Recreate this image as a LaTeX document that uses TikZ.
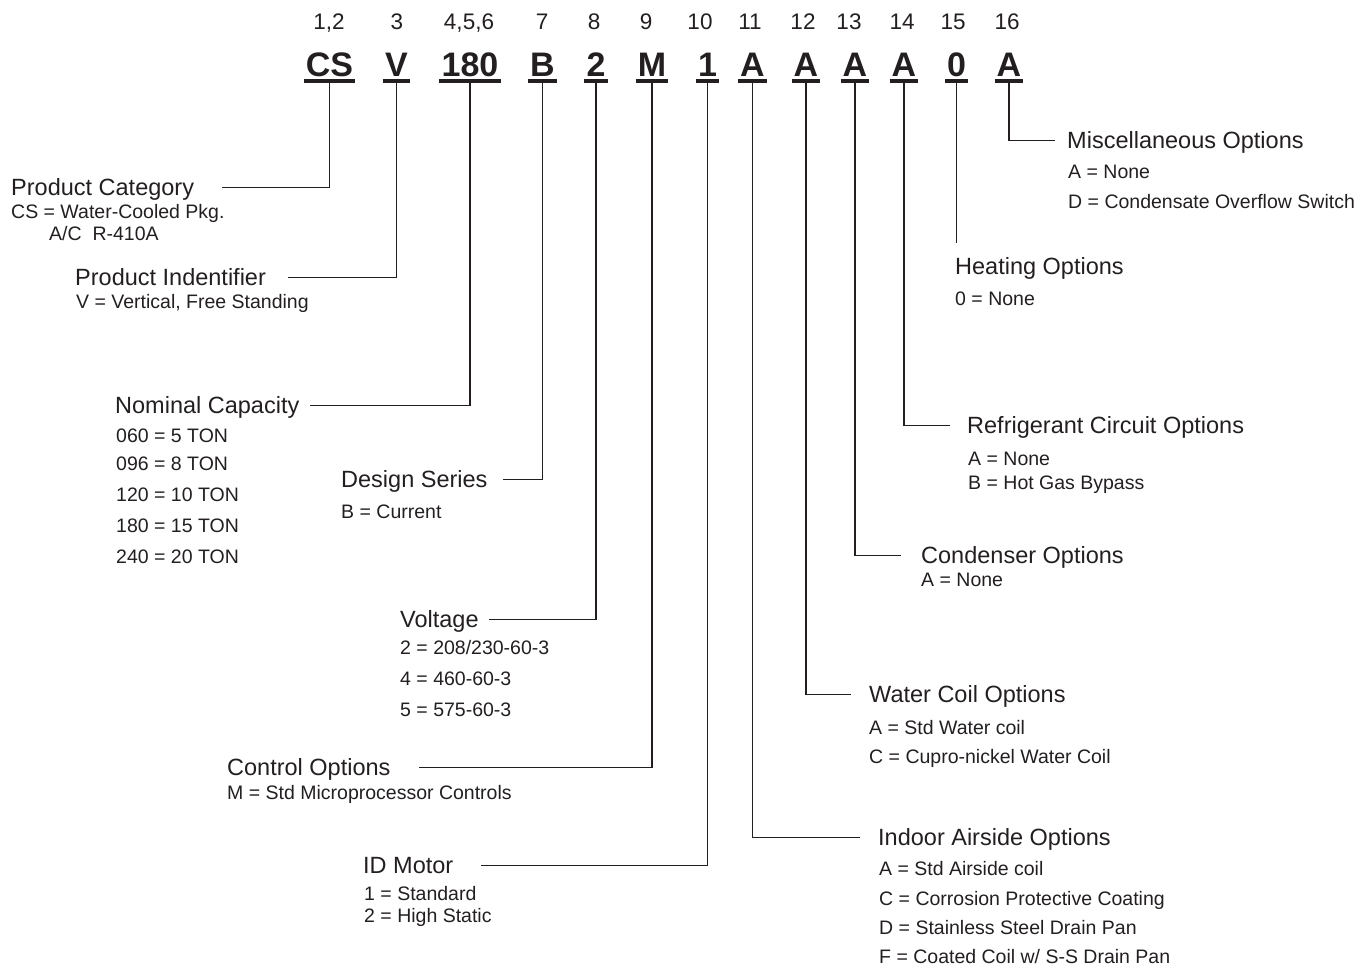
\documentclass[tikz,border=0pt]{standalone}
\usepackage{fontspec}
\setmainfont{Liberation Sans}
\definecolor{ink}{RGB}{35,31,32}
\begin{document}
\begin{tikzpicture}[x=1pt,y=-1pt,
  ttl/.style={anchor=base west, inner sep=0pt, text height=15.5pt, text depth=0pt, font=\fontsize{23.5}{28}\selectfont, text=ink},
  itm/.style={anchor=base west, inner sep=0pt, font=\fontsize{19.5}{23}\selectfont, text=ink},
  cde/.style={anchor=base, inner sep=0pt, font=\fontsize{34}{40}\selectfont\bfseries, text=ink},
  posnum/.style={anchor=base, inner sep=0pt, font=\fontsize{22.5}{27}\selectfont, text=ink},
  connl/.style={draw=ink, line width=1.4pt},
  ubar/.style={draw=ink, line width=4pt}]
\useasboundingbox (0,0) rectangle (1364,966);

% position numbers
\node[posnum] (p1) at (329,30) {1,2};
\node[posnum] (p2) at (397,30) {3};
\node[posnum] (p3) at (469,30) {4,5,6};
\node[posnum] (p4) at (542,30) {7};
\node[posnum] (p5) at (594,30) {8};
\node[posnum] (p6) at (646,30) {9};
\node[posnum] (p7) at (700,30) {10};
\node[posnum] (p8) at (750,30) {11};
\node[posnum] (p9) at (803,30) {12};
\node[posnum] (p10) at (849,30) {13};
\node[posnum] (p11) at (902,30) {14};
\node[posnum] (p12) at (953,30) {15};
\node[posnum] (p13) at (1007,30) {16};

% codes
\node[cde] (cs) at (329.5,76) {CS};
\node[cde] (v) at (396.5,76) {V};
\node[cde] (c180) at (470,76) {180};
\node[cde] (b) at (542.5,76) {B};
\node[cde] (two) at (596,76) {2};
\node[cde] (m) at (652,76) {M};
\node[cde] (one) at (707.5,76) {1};
\node[cde] (a11) at (752.5,76) {A};
\node[cde] (a12) at (806,76) {A};
\node[cde] (a13) at (855,76) {A};
\node[cde] (a14) at (904,76) {A};
\node[cde] (zero) at (956.5,76) {0};
\node[cde] (a16) at (1009,76) {A};

\foreach \c in {cs,v,c180,b,two,m,one,a11,a12,a13,a14,zero,a16}{
  \draw[ubar] ([xshift=-2pt,yshift=-5pt]\c.base west) -- ([xshift=2pt,yshift=-5pt]\c.base east);
}

% left titles and items
\node[ttl] (pc) at (11,195) {Product Category};
\node[itm] (pc1) at (11,218) {CS = Water-Cooled Pkg.};
\node[itm] (pc2) at (49,240) {A/C\ \ R-410A};

\node[ttl] (pi) at (75,285) {Product Indentifier};
\node[itm] (pi1) at (76,308) {V = Vertical, Free Standing};

\node[ttl] (nc) at (115,413) {Nominal Capacity};
\node[itm] (nc1) at (116,442) {060 = 5 TON};
\node[itm] (nc2) at (116,470) {096 = 8 TON};
\node[itm] (nc3) at (116,501) {120 = 10 TON};
\node[itm] (nc4) at (116,532) {180 = 15 TON};
\node[itm] (nc5) at (116,563) {240 = 20 TON};

\node[ttl] (ds) at (341,487) {Design Series};
\node[itm] (ds1) at (341,518) {B = Current};

\node[ttl] (vo) at (400,627) {Voltage};
\node[itm] (vo1) at (400,654) {2 = 208/230-60-3};
\node[itm] (vo2) at (400,685) {4 = 460-60-3};
\node[itm] (vo3) at (400,716) {5 = 575-60-3};

\node[ttl] (co) at (227,775) {Control Options};
\node[itm] (co1) at (227,799) {M = Std Microprocessor Controls};

\node[ttl] (idm) at (363,873) {ID Motor};
\node[itm] (idm1) at (364,900) {1 = Standard};
\node[itm] (idm2) at (364,922) {2 = High Static};

% right titles and items
\node[ttl] (mi) at (1067,148) {Miscellaneous Options};
\node[itm] (mi1) at (1068,178) {A = None};
\node[itm] (mi2) at (1068,208) {D = Condensate Overflow Switch};

\node[ttl] (ho) at (955,274) {Heating Options};
\node[itm] (ho1) at (955,305) {0 = None};

\node[ttl] (rc) at (967,433) {Refrigerant Circuit Options};
\node[itm] (rc1) at (968,465) {A = None};
\node[itm] (rc2) at (968,489) {B = Hot Gas Bypass};

\node[ttl] (cd) at (921,563) {Condenser Options};
\node[itm] (cd1) at (921,586) {A = None};

\node[ttl] (wc) at (869,702) {Water Coil Options};
\node[itm] (wc1) at (869,734) {A = Std Water coil};
\node[itm] (wc2) at (869,763) {C = Cupro-nickel Water Coil};

\node[ttl] (ia) at (878,845) {Indoor Airside Options};
\node[itm] (ia1) at (879,875) {A = Std Airside coil};
\node[itm] (ia2) at (879,905) {C = Corrosion Protective Coating};
\node[itm] (ia3) at (879,934) {D = Stainless Steel Drain Pan};
\node[itm] (ia4) at (879,963) {F = Coated Coil w/ S-S Drain Pan};

\coordinate (hend) at (956.5,243);

% connectors
\draw[connl] ([yshift=-6pt]cs.base) |- ([xshift=28pt]pc.east);
\draw[connl] ([yshift=-6pt]v.base) |- ([xshift=22pt]pi.east);
\draw[connl] ([yshift=-6pt]c180.base) |- ([xshift=10pt]nc.east);
\draw[connl] ([yshift=-6pt]b.base) |- ([xshift=15pt]ds.east);
\draw[connl] ([yshift=-6pt]two.base) |- ([xshift=10pt]vo.east);
\draw[connl] ([yshift=-6pt]m.base) |- ([xshift=28pt]co.east);
\draw[connl] ([yshift=-6pt]one.base) |- ([xshift=27pt]idm.east);
\draw[connl] ([yshift=-6pt]a11.base) |- ([xshift=-18pt]ia.west);
\draw[connl] ([yshift=-6pt]a12.base) |- ([xshift=-18pt]wc.west);
\draw[connl] ([yshift=-6pt]a13.base) |- ([xshift=-20pt]cd.west);
\draw[connl] ([yshift=-6pt]a14.base) |- ([xshift=-17pt]rc.west);
\draw[connl] ([yshift=-6pt]zero.base) -- (hend);
\draw[connl] ([yshift=-6pt]a16.base) |- ([xshift=-12pt]mi.west);
\end{tikzpicture}
\end{document}
